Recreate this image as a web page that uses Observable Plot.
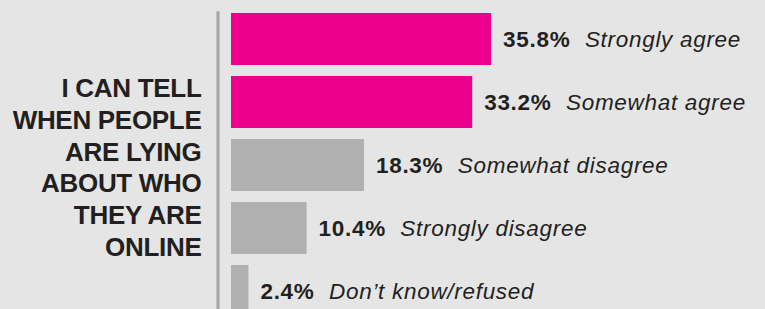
<!DOCTYPE html>
<html>
<head>
<meta charset="utf-8">
<script src="https://cdn.jsdelivr.net/npm/d3@7"></script>
<script src="https://cdn.jsdelivr.net/npm/@observablehq/plot@0.6"></script>
<style>
  html, body { margin: 0; padding: 0; background: #e5e5e5; overflow: hidden; }
  #chart { width: 765px; height: 309px; overflow: hidden; }
</style>
</head>
<body>
<div id="chart"></div>
<script>
const categories = ["Strongly agree", "Somewhat agree", "Somewhat disagree", "Strongly disagree", "Don’t know/refused"];
const values = [35.8, 33.2, 18.3, 10.4, 2.4];
const groups = ["agree", "agree", "disagree", "disagree", "other"];
const title = "I CAN TELL\nWHEN PEOPLE\nARE LYING\nABOUT WHO\nTHEY ARE\nONLINE";

const data = categories.map((c, i) => ({category: c, value: values[i], group: groups[i]}));

const chart = Plot.plot({
  width: 765,
  height: 309,
  marginLeft: 231,
  marginRight: 243.4,
  marginTop: 5.8,
  marginBottom: 0,
  style: {background: "#e5e5e5", fontFamily: "'Liberation Sans', Arial, sans-serif", color: "#231f20", overflow: "hidden"},
  x: {domain: [0, 40], axis: null},
  y: {domain: categories, range: [5.8, 323.8], paddingInner: 0.18, paddingOuter: 0.09, axis: null},
  color: {domain: ["agree", "disagree", "other"], range: ["#ec008c", "#b0b0b0", "#b0b0b0"]},
  marks: [
    Plot.ruleX([0], {dx: -13.5, insetTop: 5.5, stroke: "#a3a3a3", strokeWidth: 3}),
    Plot.barX(data, {x: "value", y: "category", fill: "group"}),
    Plot.text(data, {
      x: "value", y: "category", text: d => `${d.value}%`,
      textAnchor: "start", dx: 11.5, dy: 0.5,
      fontSize: 22.5, fontWeight: "bold", fill: "#231f20"
    }),
    Plot.text([title], {
      frameAnchor: "top-left", text: d => d,
      textAnchor: "end", lineAnchor: "top", lineHeight: 1.22,
      dx: -30, dy: 68.5, fontSize: 26, fontWeight: "bold", fill: "#231f20"
    })
  ]
});

d3.select(chart).selectAll("text")
  .filter(function() { return /%$/.test(this.textContent); })
  .attr("letter-spacing", 0.7)
  .each(function() {
    const v = parseFloat(this.textContent);
    const i = values.indexOf(v);
    d3.select(this).append("tspan")
      .attr("dx", 14.5)
      .attr("font-style", "italic")
      .attr("font-weight", "normal")
      .text(categories[i]);
  });

d3.select(chart).selectAll("text")
  .filter(function() { return /ONLINE/.test(this.textContent); })
  .attr("letter-spacing", -0.3);

document.getElementById("chart").appendChild(chart);
</script>
</body>
</html>
